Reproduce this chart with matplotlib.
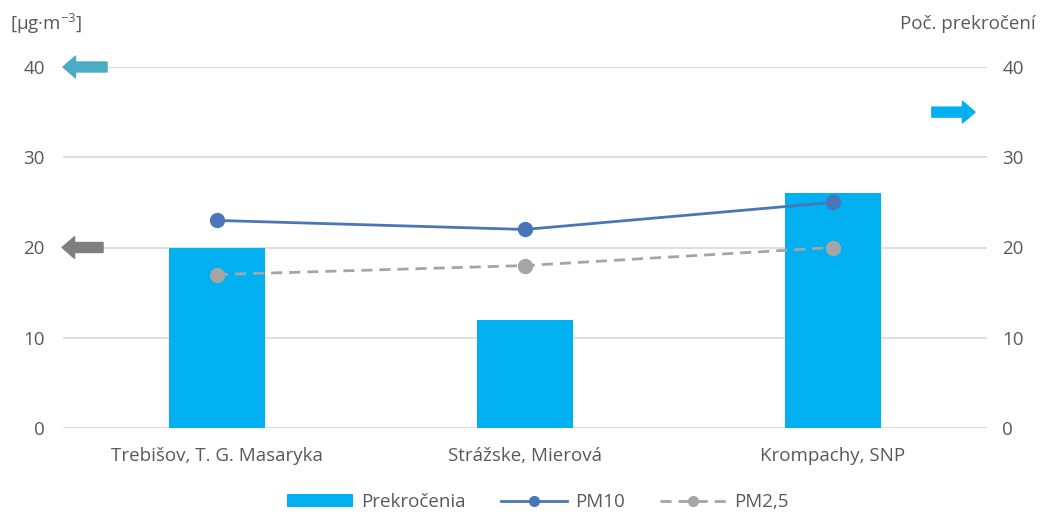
import matplotlib.pyplot as plt
import numpy as np

stations = ["Trebišov, T. G. Masaryka", "Strážske, Mierová", "Krompachy, SNP"]
exceedances = [20, 12, 26]
pm10 = [23, 22, 25]
pm25 = [17, 18, 20]
yticks = [0, 10, 20, 30, 40]

plt.rcParams['font.family'] = ['Open Sans', 'DejaVu Sans']
text_color = "#595959"
fs = 13.5

fig = plt.figure(figsize=(10.4, 5.13), dpi=100)
ax = fig.add_axes([63 / 1040, 1 - 428 / 513, 924 / 1040, 361 / 513])
ax2 = ax.twinx()

x = np.arange(len(stations))

# bars on the secondary (count) axis, lines on the primary (concentration) axis
bars = ax2.bar(x, exceedances, width=0.31, color="#00B0F0", label="Prekročenia", zorder=2)
ax.set_zorder(ax2.get_zorder() + 1)
ax.patch.set_visible(False)

l1, = ax.plot(x, pm10, color="#4A76B8", lw=2, marker="o", ms=10,
              markerfacecolor="#4A76B8", markeredgecolor="#4A76B8", label="PM10", zorder=4)
l2, = ax.plot(x, pm25, color="#A5A5A5", lw=2, ls=(0, (4, 2.5)), marker="o", ms=10,
              markerfacecolor="#A5A5A5", markeredgecolor="#A5A5A5", label="PM2,5", zorder=3)

for a in (ax, ax2):
    a.set_ylim(0, 40)
    a.set_xlim(-0.5, 2.5)
    a.set_yticks(yticks)
    for s in a.spines.values():
        s.set_visible(False)
    a.tick_params(axis="both", length=0, labelsize=fs, colors=text_color)

ax.set_xticks(x)
ax.set_xticklabels(stations)
ax.tick_params(axis="y", pad=13)
ax.tick_params(axis="x", pad=14)
ax2.tick_params(axis="y", pad=11)
ax2.tick_params(axis="x", labelbottom=False, labeltop=False)

ax2.grid(axis="y", color="#D9D9D9", lw=1.2, zorder=0)
ax2.set_axisbelow(True)

# axis titles
fig.text(10 / 1040, 1 - 24 / 513, r"[μg·m$^{\mathregular{-3}}$]", fontsize=fs, color=text_color,
         ha="left", va="center")
fig.text(1036 / 1040, 1 - 24 / 513, "Poč. prekročení", fontsize=fs, color=text_color,
         ha="right", va="center")

# direction arrows pointing to the relevant axis
def arrow(a, x0, x1, y, color):
    a.annotate("", xy=(x1, y), xytext=(x0, y), xycoords="data", textcoords="data",
               annotation_clip=False,
               arrowprops=dict(arrowstyle="simple,head_width=1.3,head_length=0.75,tail_width=0.6",
                               color=color, shrinkA=0, shrinkB=0, mutation_scale=12),
               zorder=6)

arrow(ax, -0.357, -0.5, 40, "#4BACC6")
arrow(ax, -0.37, -0.503, 20, "#7F7F7F")
arrow(ax, 2.321, 2.461, 35, "#00B0F0")

# legend
fig.legend([bars, l1, l2], ["Prekročenia", "PM10", "PM2,5"], loc="center",
           bbox_to_anchor=(538 / 1040, 1 - 502 / 513), ncol=3, frameon=False,
           fontsize=fs, labelcolor=text_color, handlelength=3.5, columnspacing=1.9,
           handletextpad=0.43, handleheight=0.65, markerscale=0.7)

fig.savefig("out.png", dpi=100)
